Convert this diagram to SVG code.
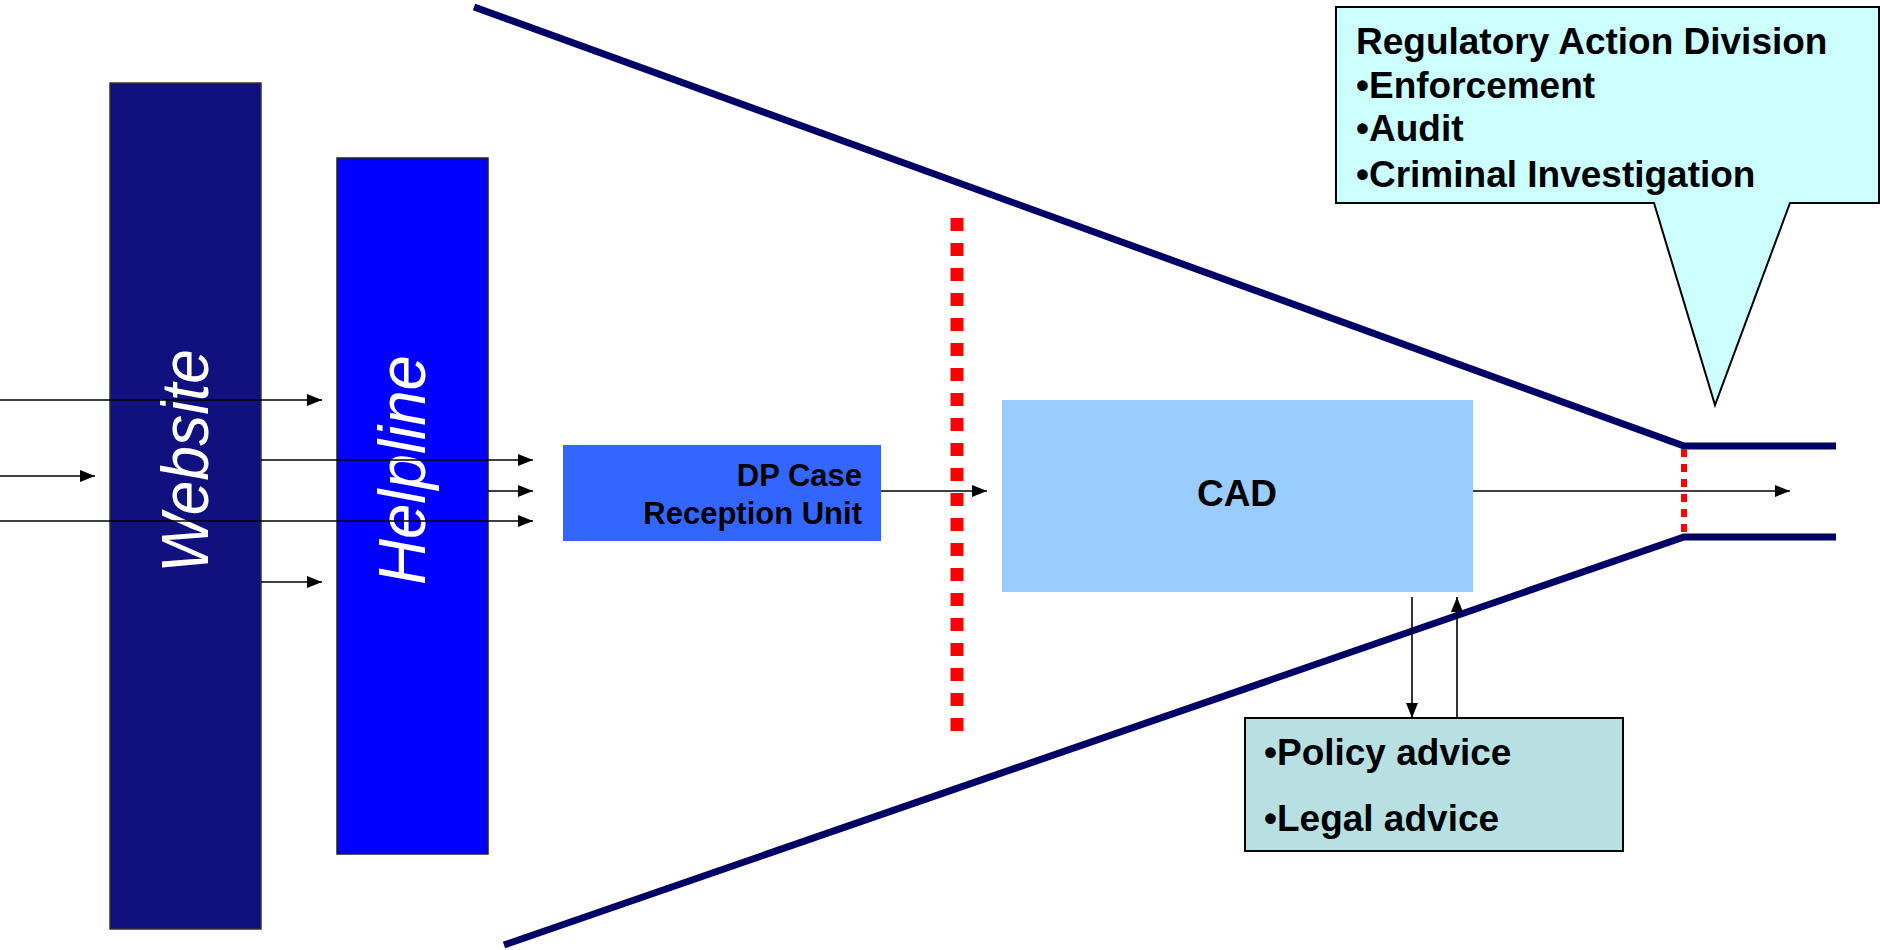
<svg xmlns="http://www.w3.org/2000/svg" width="1880" height="950" viewBox="0 0 1880 950">
<defs>
<style>
.bt{font-family:"Liberation Sans",Arial,sans-serif;font-weight:bold;fill:#000}
.vt{font-family:"Liberation Sans",Arial,sans-serif;font-style:italic;fill:#fff;font-size:66px}
.ar{stroke:#000;stroke-width:1.6;fill:none;marker-end:url(#ah)}
.navy{stroke:#000066;stroke-width:7;fill:none}
</style>
<marker id="ah" markerWidth="15" markerHeight="12" refX="15" refY="6" orient="auto" markerUnits="userSpaceOnUse">
<path d="M0,0 L15,6 L0,12 Z" fill="#000"/>
</marker>
</defs>
<rect width="1880" height="950" fill="#fff"/>

<g id="funnel">
<polyline class="navy" points="474,7 1684,446 1836,446"/>
<polyline class="navy" points="504,945 1684,537 1836,537"/>
<line x1="957" y1="218" x2="957" y2="738" stroke="#ff0000" stroke-width="13" stroke-dasharray="13 12"/>
<line x1="1684" y1="449" x2="1684" y2="534" stroke="#ff0000" stroke-width="6" stroke-dasharray="8 7"/>
</g>

<g id="website">
<rect x="110" y="83" width="151" height="846" fill="#10107f" stroke="#333" stroke-width="1.5"/>
<text class="vt" transform="translate(208,461) rotate(-90)" text-anchor="middle" textLength="224" lengthAdjust="spacingAndGlyphs">Website</text>
</g>

<g id="helpline">
<rect x="337" y="158" width="151" height="696" fill="#0000ff" stroke="#222" stroke-width="1.5"/>
<text class="vt" transform="translate(425,470) rotate(-90)" text-anchor="middle" textLength="230" lengthAdjust="spacingAndGlyphs">Helpline</text>
</g>

<g id="dp">
<rect x="563" y="445" width="318" height="96" fill="#3366ff"/>
<text class="bt" font-size="31" text-anchor="end" x="862" y="486">DP Case</text>
<text class="bt" font-size="31" text-anchor="end" x="862" y="524">Reception Unit</text>
</g>

<g id="cad">
<rect x="1002" y="400" width="471" height="192" fill="#99ccff"/>
<text class="bt" font-size="37" text-anchor="middle" x="1237" y="506">CAD</text>
</g>

<g id="advice">
<rect x="1245" y="718" width="378" height="133" fill="#b8e0e2" stroke="#000" stroke-width="2"/>
<text class="bt" font-size="37" x="1264" y="765">•Policy advice</text>
<text class="bt" font-size="37" x="1264" y="831">•Legal advice</text>
</g>

<g id="rad">
<path d="M1336,7 H1879 V203 H1790 L1715,405 L1654,203 H1336 Z" fill="#ccffff" stroke="#000" stroke-width="2"/>
<text class="bt" font-size="37" x="1356" y="54">Regulatory Action Division</text>
<text class="bt" font-size="37" x="1356" y="98">•Enforcement</text>
<text class="bt" font-size="37" x="1356" y="141">•Audit</text>
<text class="bt" font-size="37" x="1356" y="187">•Criminal Investigation</text>
</g>

<g id="connectors">
<line class="ar" x1="0" y1="400" x2="322" y2="400"/>
<line class="ar" x1="0" y1="476" x2="95" y2="476"/>
<line class="ar" x1="0" y1="521" x2="533" y2="521"/>
<line class="ar" x1="261" y1="460" x2="533" y2="460"/>
<line class="ar" x1="488" y1="491" x2="533" y2="491"/>
<line class="ar" x1="261" y1="582" x2="322" y2="582"/>
<line class="ar" x1="881" y1="491" x2="987" y2="491"/>
<line class="ar" x1="1473" y1="491" x2="1790" y2="491"/>
<line class="ar" x1="1412" y1="597" x2="1412" y2="718"/>
<line class="ar" x1="1457" y1="718" x2="1457" y2="597"/>
</g>
</svg>
